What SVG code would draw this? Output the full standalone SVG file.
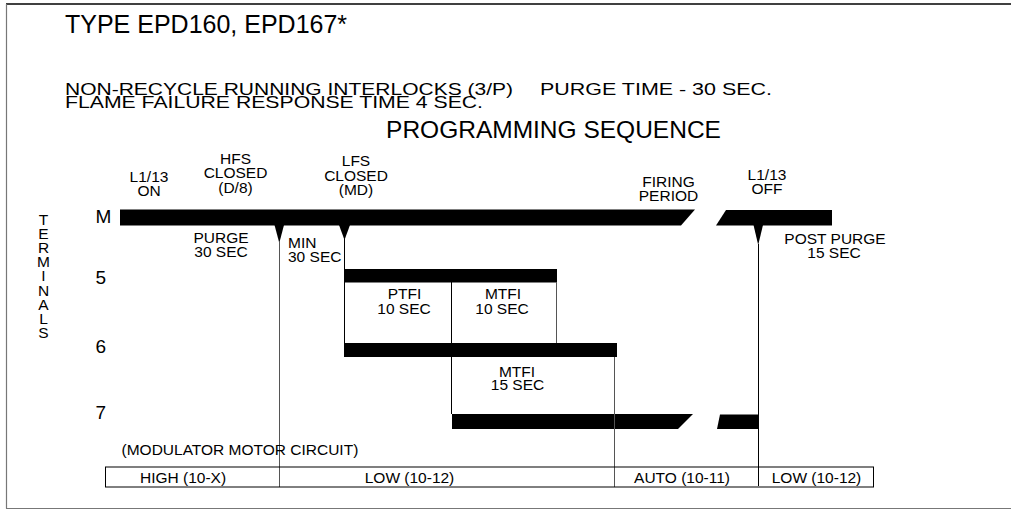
<svg xmlns="http://www.w3.org/2000/svg" width="1011" height="510" viewBox="0 0 1011 510">
<style>
text{font-family:"Liberation Sans",Arial,sans-serif;fill:#000}
.s{font-size:15.5px}
.c{text-anchor:middle}
.t{font-size:19px}
.bar{fill:#000}
.ln{stroke:#000;stroke-width:1;fill:none}
.lg{stroke:#555;stroke-width:1;fill:none}
</style>
<rect width="1011" height="510" fill="#fff"/>
<g id="frame">
<line x1="6" y1="4" x2="1011" y2="4" stroke="#000" stroke-width="1.5"/>
<line x1="6.5" y1="4" x2="6.5" y2="508.5" stroke="#777" stroke-width="1.2"/>
<line x1="6" y1="508.5" x2="1011" y2="508.5" stroke="#777" stroke-width="1.2"/>
</g>
<g id="header">
<text x="65" y="33.3" font-size="25">TYPE EPD160, EPD167*</text>
<text x="65" y="95" font-size="16.5" textLength="448" lengthAdjust="spacingAndGlyphs">NON-RECYCLE RUNNING INTERLOCKS (3/P)</text>
<text x="540" y="95" font-size="16.5" textLength="232" lengthAdjust="spacingAndGlyphs">PURGE TIME - 30 SEC.</text>
<text x="65" y="107.5" font-size="16.5" textLength="418" lengthAdjust="spacingAndGlyphs">FLAME FAILURE RESPONSE TIME 4 SEC.</text>
<text x="553.5" y="137.5" font-size="24.5" class="c">PROGRAMMING SEQUENCE</text>
</g>
<g id="terminals-label" class="s c" font-size="15">
<text x="43.5" y="224.5">T</text>
<text x="43.5" y="238.7">E</text>
<text x="43.5" y="252.9">R</text>
<text x="43.5" y="267.1">M</text>
<text x="43.5" y="281.3">I</text>
<text x="43.5" y="295.5">N</text>
<text x="43.5" y="309.7">A</text>
<text x="43.5" y="323.9">L</text>
<text x="43.5" y="338.1">S</text>
</g>
<g id="terminal-M"><text x="95.5" y="223.3" class="t">M</text>
<polygon class="bar" points="120,209.5 695,209.5 681,225.5 120,225.5"/>
<polygon class="bar" points="726,210 832,210 832,225.5 716,225.5"/>
</g>
<g id="terminal-5"><text x="95.5" y="284.3" class="t">5</text>
<rect class="bar" x="344" y="269" width="213" height="13.5"/></g>
<g id="terminal-6"><text x="95.5" y="353.3" class="t">6</text>
<rect class="bar" x="344" y="343" width="273" height="14"/></g>
<g id="terminal-7"><text x="95.5" y="419.3" class="t">7</text>
<polygon class="bar" points="452,414 693,414 678,429 452,429"/>
<polygon class="bar" points="720,414.5 758,414.5 758,429 717,429"/>
</g>
<g id="connectors">
<path class="bar" d="M274.5,225 L284,225 L279.3,243 Z"/>
<path class="bar" d="M339,225 L350,225 L344.5,240 Z"/>
<path class="bar" d="M753.5,225 L763,225 L758.2,245 Z"/>
<line class="lg" x1="279.5" y1="242" x2="279.5" y2="487"/>
<line class="ln" x1="344.5" y1="239" x2="344.5" y2="343"/>
<line class="ln" x1="451.5" y1="282" x2="451.5" y2="414"/>
<line class="lg" x1="556.5" y1="282" x2="556.5" y2="343"/>
<line class="lg" x1="614.5" y1="357" x2="614.5" y2="487"/>
<line class="ln" x1="758.5" y1="244" x2="758.5" y2="486"/>
</g>
<g id="labels" class="s c">
<text x="149" y="181.7">L1/13</text>
<text x="149" y="195.5">ON</text>
<text x="235.5" y="163.5">HFS</text>
<text x="235.5" y="178">CLOSED</text>
<text x="235.5" y="192.5">(D/8)</text>
<text x="356" y="166">LFS</text>
<text x="356" y="181">CLOSED</text>
<text x="356" y="195">(MD)</text>
<text x="668.5" y="186.5">FIRING</text>
<text x="668.5" y="201">PERIOD</text>
<text x="767" y="180">L1/13</text>
<text x="767" y="194">OFF</text>
<text x="221" y="243.3">PURGE</text>
<text x="221" y="256.7">30 SEC</text>
<text x="288" y="248.3" style="text-anchor:start">MIN</text>
<text x="288" y="261.7" style="text-anchor:start">30 SEC</text>
<text x="835" y="244.3">POST PURGE</text>
<text x="834" y="258">15 SEC</text>
<text x="404.5" y="299">PTFI</text>
<text x="404" y="313.7">10 SEC</text>
<text x="503" y="299">MTFI</text>
<text x="502" y="313.7">10 SEC</text>
<text x="517" y="376.7">MTFI</text>
<text x="517.5" y="390">15 SEC</text>
<text x="121.5" y="455" style="text-anchor:start">(MODULATOR MOTOR CIRCUIT)</text>
</g>
<g id="modulator-table">
<rect x="105.5" y="467" width="768" height="20" fill="none" stroke="#000" stroke-width="1"/>
<g class="s c">
<text x="183" y="482.5">HIGH (10-X)</text>
<text x="409.5" y="482.5">LOW (10-12)</text>
<text x="682" y="482.5">AUTO (10-11)</text>
<text x="816.5" y="482.5">LOW (10-12)</text>
</g>
</g>
</svg>
